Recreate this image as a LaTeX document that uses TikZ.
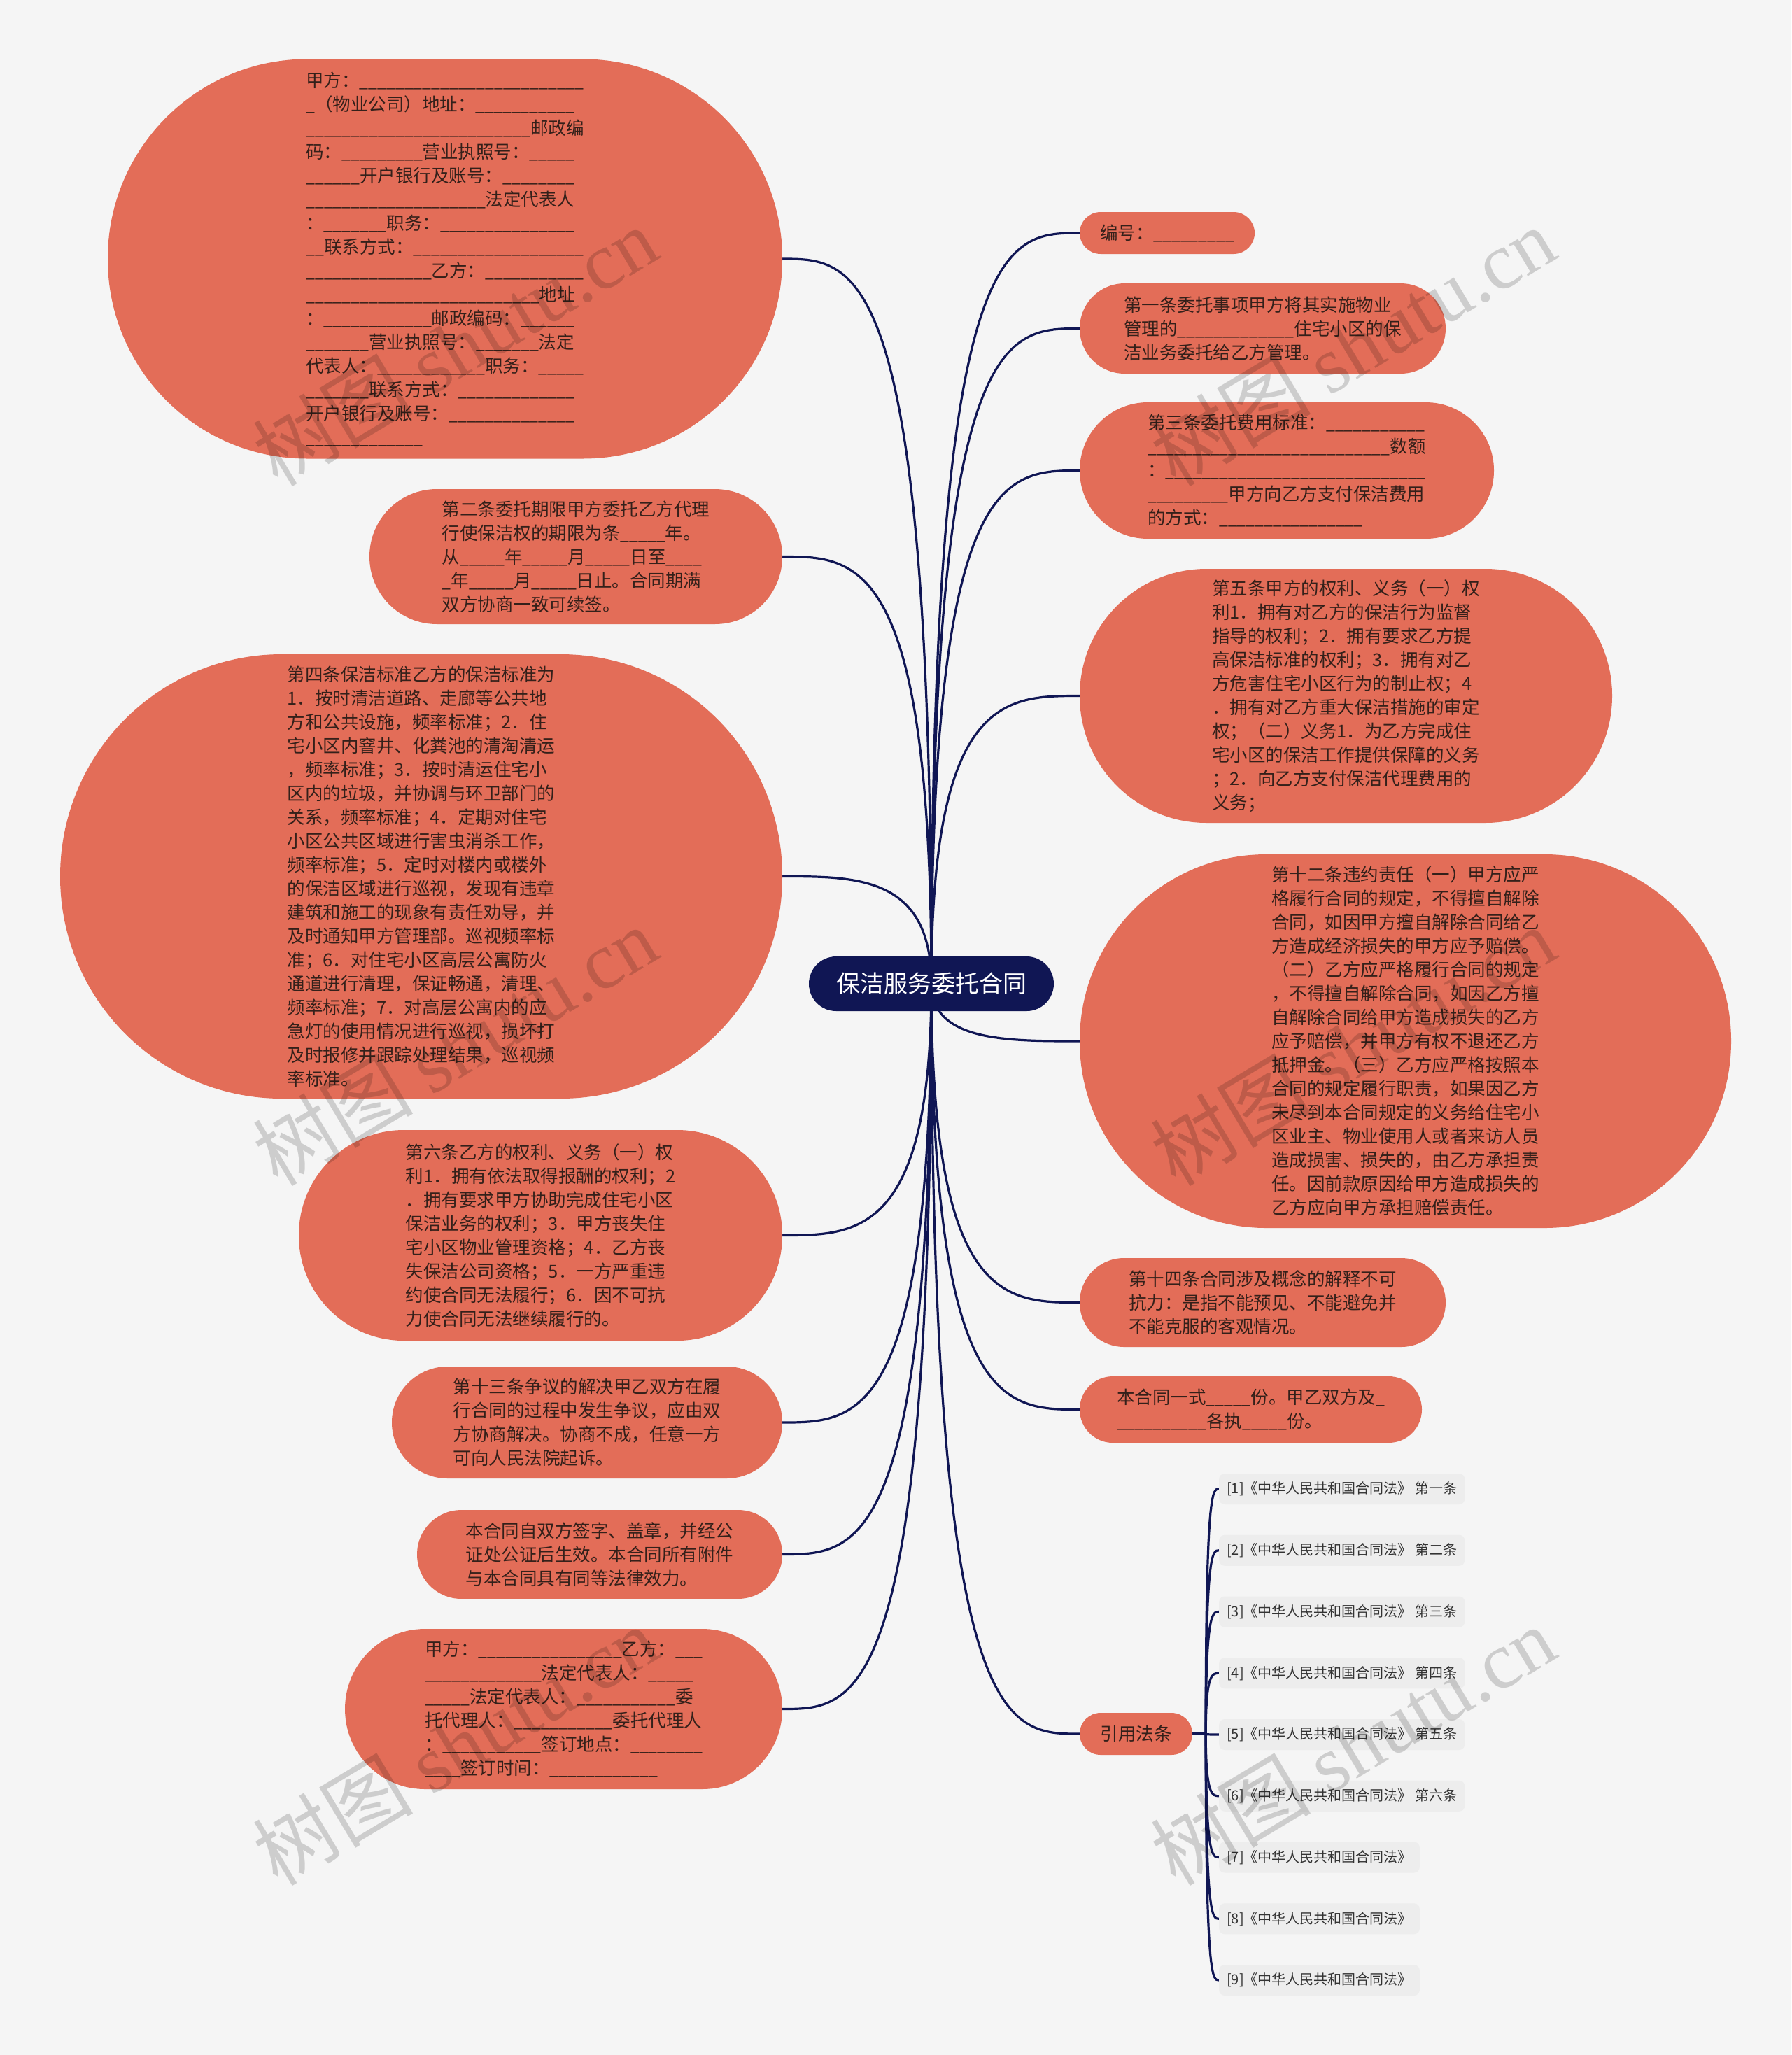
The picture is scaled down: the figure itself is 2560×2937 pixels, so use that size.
\documentclass[tikz,border=0pt]{standalone}
\usepackage{fontspec}
\setmainfont{Noto Sans CJK SC}
\newfontfamily\usfont{Noto Sans CJK SC}[FakeStretch=0.9]
\newfontfamily\wmlat{Liberation Serif}
\usetikzlibrary{calc}
\definecolor{bgc}{RGB}{245,245,245}
\definecolor{coral}{RGB}{227,109,88}
\definecolor{navy}{RGB}{16,22,84}
\definecolor{txt}{RGB}{52,32,26}
\definecolor{refbox}{RGB}{237,237,237}
\definecolor{reftxt}{RGB}{51,51,51}
\pgfdeclarelayer{bglayer}\pgfdeclarelayer{edges}\pgfdeclarelayer{wm}
\pgfsetlayers{bglayer,edges,main,wm}
\newcount\uscnt
\newcommand\oneus{{\usfont\_}}
\newcommand\us[1]{\uscnt=#1\relax{\usfont\loop\ifnum\uscnt>0 \_\advance\uscnt-1 \repeat}}
\newcommand\leaffont{\fontsize{25.5pt}{34pt}\selectfont}
\newcommand\linkR[1]{\draw[conn] (c.center) .. controls (c.center |- #1.west) and ($(c.center |- #1.west)!0.5!(#1.west)$) .. (#1.west);}
\newcommand\linkL[1]{\draw[conn] (c.center) .. controls (c.center |- #1.east) and ($(c.center |- #1.east)!0.5!(#1.east)$) .. (#1.east);}
\begin{document}
\begin{tikzpicture}[x=1pt,y=-1pt,
  leaf/.style 2 args={shape=rectangle, fill=coral, text=txt, align=left, font=\leaffont, inner sep=0pt, minimum width=#1pt, minimum height=#2pt, rounded corners=0.499*#2pt},
  root/.style={shape=rectangle, fill=navy, text=white, font=\fontsize{34pt}{40pt}\selectfont, inner sep=0pt, minimum width=350pt, minimum height=78pt, rounded corners=38.9pt},
  refitem/.style={shape=rectangle, fill=refbox, text=reftxt, font=\fontsize{20pt}{24pt}\selectfont, rounded corners=8pt, minimum height=44pt, inner xsep=11pt, inner ysep=0pt, anchor=west},
  conn/.style={draw=navy, line width=3.2pt},
  wmark/.style={rotate=31, text=black, opacity=0.16, font=\fontsize{115pt}{115pt}\selectfont}]
\useasboundingbox (0,0) rectangle (2560,2937);
\begin{pgfonlayer}{bglayer}
\fill[bgc] (0,0) rectangle (2560,2937);
\end{pgfonlayer}

\node[root] (c) at (1331,1406) {保洁服务委托合同};

% left
\node[leaf={964}{571}] (a1) at (636,370) {甲方：\us{25}\\
\oneus（物业公司）地址：\us{11}\\
\us{25}邮政编\\
码：\us{9}营业执照号：\us{5}\\
\us{6}开户银行及账号：\us{8}\\
\us{20}法定代表人\\
：\us{7}职务：\us{15}\\
\us{2}联系方式：\us{19}\\
\us{14}乙方：\us{11}\\
\us{26}地址\\
：\us{12}邮政编码：\us{6}\\
\us{7}营业执照号：\us{7}法定\\
代表人：\us{12}职务：\us{5}\\
\us{7}联系方式：\us{13}\\
开户银行及账号：\us{14}\\
\us{13}};

\node[leaf={590}{193}] (a2) at (823,795.5) {第二条委托期限甲方委托乙方代理\\
行使保洁权的期限为条\us{5}年。\\
从\us{5}年\us{5}月\us{5}日至\us{4}\\
\oneus 年\us{5}月\us{5}日止。合同期满\\
双方协商一致可续签。};

\node[leaf={1032}{635}] (a3) at (602,1252.5) {第四条保洁标准乙方的保洁标准为\\
1．按时清洁道路、走廊等公共地\\
方和公共设施，频率标准；2．住\\
宅小区内窨井、化粪池的清淘清运\\
，频率标准；3．按时清运住宅小\\
区内的垃圾，并协调与环卫部门的\\
关系，频率标准；4．定期对住宅\\
小区公共区域进行害虫消杀工作，\\
频率标准；5．定时对楼内或楼外\\
的保洁区域进行巡视，发现有违章\\
建筑和施工的现象有责任劝导，并\\
及时通知甲方管理部。巡视频率标\\
准；6．对住宅小区高层公寓防火\\
通道进行清理，保证畅通，清理、\\
频率标准；7．对高层公寓内的应\\
急灯的使用情况进行巡视，损坏打\\
及时报修并跟踪处理结果，巡视频\\
率标准。};

\node[leaf={691}{301}] (a4) at (772.5,1765.5) {第六条乙方的权利、义务（一）权\\
利1．拥有依法取得报酬的权利；2\\
．拥有要求甲方协助完成住宅小区\\
保洁业务的权利；3．甲方丧失住\\
宅小区物业管理资格；4．乙方丧\\
失保洁公司资格；5．一方严重违\\
约使合同无法履行；6．因不可抗\\
力使合同无法继续履行的。};

\node[leaf={558}{160}] (a5) at (839,2033) {第十三条争议的解决甲乙双方在履\\
行合同的过程中发生争议，应由双\\
方协商解决。协商不成，任意一方\\
可向人民法院起诉。};

\node[leaf={522}{127}] (a6) at (857,2221.5) {本合同自双方签字、盖章，并经公\\
证处公证后生效。本合同所有附件\\
与本合同具有同等法律效力。};

\node[leaf={625}{229}] (a7) at (805.5,2442.5) {甲方：\us{16}乙方：\us{3}\\
\us{13}法定代表人：\us{5}\\
\us{5}法定代表人：\us{11}委\\
托代理人：\us{11}委托代理人\\
：\us{11}签订地点：\us{8}\\
\us{4}签订时间：\us{12}};

% right
\node[leaf={250}{60}] (b1) at (1668,333) {编号：\us{9}};

\node[leaf={523}{129}] (b2) at (1804.5,469.5) {第一条委托事项甲方将其实施物业\\
管理的\us{13}住宅小区的保\\
洁业务委托给乙方管理。};

\node[leaf={592}{195}] (b3) at (1839,672.5) {第三条委托费用标准：\us{11}\\
\us{27}数额\\
：\us{29}\\
\us{9}甲方向乙方支付保洁费用\\
的方式：\us{16}};

\node[leaf={761}{363}] (b4) at (1923.5,994.5) {第五条甲方的权利、义务（一）权\\
利1．拥有对乙方的保洁行为监督\\
指导的权利；2．拥有要求乙方提\\
高保洁标准的权利；3．拥有对乙\\
方危害住宅小区行为的制止权；4\\
．拥有对乙方重大保洁措施的审定\\
权；（二）义务1．为乙方完成住\\
宅小区的保洁工作提供保障的义务\\
；2．向乙方支付保洁代理费用的\\
义务；};

\node[leaf={931}{534}] (b5) at (2008.5,1488) {第十二条违约责任（一）甲方应严\\
格履行合同的规定，不得擅自解除\\
合同，如因甲方擅自解除合同给乙\\
方造成经济损失的甲方应予赔偿。\\
（二）乙方应严格履行合同的规定\\
，不得擅自解除合同，如因乙方擅\\
自解除合同给甲方造成损失的乙方\\
应予赔偿，并甲方有权不退还乙方\\
抵押金。（三）乙方应严格按照本\\
合同的规定履行职责，如果因乙方\\
未尽到本合同规定的义务给住宅小\\
区业主、物业使用人或者来访人员\\
造成损害、损失的，由乙方承担责\\
任。因前款原因给甲方造成损失的\\
乙方应向甲方承担赔偿责任。};

\node[leaf={523}{127}] (b6) at (1804.5,1861.5) {第十四条合同涉及概念的解释不可\\
抗力：是指不能预见、不能避免并\\
不能克服的客观情况。};

\node[leaf={489}{95}] (b7) at (1787.5,2014.5) {本合同一式\us{5}份。甲乙双方及\oneus\\
\us{10}各执\us{5}份。};

\node[leaf={161}{60}] (b8) at (1623.5,2478) {引用法条};

% references
\node[refitem] (f1) at (1742,2128) {[1]《中华人民共和国合同法》 第一条};
\node[refitem] (f2) at (1742,2215.75) {[2]《中华人民共和国合同法》 第二条};
\node[refitem] (f3) at (1742,2303.5) {[3]《中华人民共和国合同法》 第三条};
\node[refitem] (f4) at (1742,2391.25) {[4]《中华人民共和国合同法》 第四条};
\node[refitem] (f5) at (1742,2479) {[5]《中华人民共和国合同法》 第五条};
\node[refitem] (f6) at (1742,2566.75) {[6]《中华人民共和国合同法》 第六条};
\node[refitem] (f7) at (1742,2654.5) {[7]《中华人民共和国合同法》};
\node[refitem] (f8) at (1742,2742.25) {[8]《中华人民共和国合同法》};
\node[refitem] (f9) at (1742,2830) {[9]《中华人民共和国合同法》};

\begin{pgfonlayer}{edges}
\linkL{a1}\linkL{a2}\linkL{a3}\linkL{a4}\linkL{a5}\linkL{a6}\linkL{a7}
\linkR{b1}\linkR{b2}\linkR{b3}\linkR{b4}\linkR{b5}\linkR{b6}\linkR{b7}\linkR{b8}
\coordinate (jn) at ($(b8.east)+(19,0)$);
\draw[conn] (b8.east) -- (jn);
\foreach \i in {1,...,9}{
  \draw[conn] (jn) .. controls (jn |- f\i.west) and ($(jn |- f\i.west)!0.5!(f\i.west)$) .. (f\i.west);
}
\end{pgfonlayer}

\begin{pgfonlayer}{wm}
\foreach \k/\x/\y in {1/650/495,2/650/1495,3/650/2495,4/1933/495,5/1933/1495,6/1933/2495}{
  \node[wmark] (wm\k) at (\x,\y) {树图 {\wmlat shutu.cn}};
}
\end{pgfonlayer}
\end{tikzpicture}
\end{document}
